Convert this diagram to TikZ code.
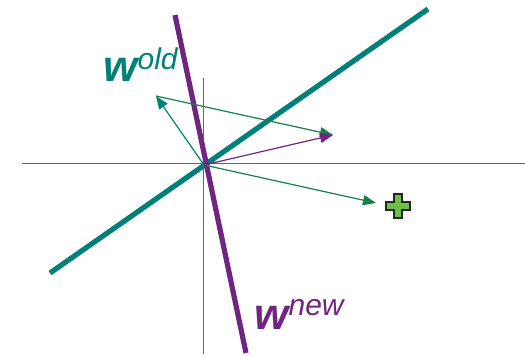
\documentclass[tikz,border=0pt]{standalone}
\usepackage{fontspec}
\setmainfont{Liberation Sans}
\usetikzlibrary{arrows.meta}
\definecolor{tealc}{RGB}{0,128,120}
\definecolor{greenc}{RGB}{22,128,72}
\definecolor{purplec}{RGB}{112,38,128}
\definecolor{plusc}{RGB}{108,190,69}
\tikzset{
  axis/.style={draw=black!60, line width=0.5pt},
  boundary/.style={line width=2.6pt},
  vec/.style={line width=0.6pt, -{Triangle[length=6.5pt,width=5pt]}},
  lbl/.style={inner sep=0pt, anchor=base west},
}
\begin{document}
\begin{tikzpicture}[x=0.5pt,y=-0.5pt]
\useasboundingbox (0,0) rectangle (525,357);
\coordinate (O) at (204,165);
\coordinate (Wold) at (156,96);
\coordinate (Wnew) at (333,135);
\coordinate (X) at (376,203);
\coordinate (axL) at (22,164);
\coordinate (axR) at (525,164);
\coordinate (axT) at (203,78);
\coordinate (axB) at (203,354);
\coordinate (bT1) at (50,273);
\coordinate (bT2) at (428,9);
\coordinate (bP1) at (175,15);
\coordinate (bP2) at (246,353);
\draw[axis] (axL) -- (axR);
\draw[axis] (axT) -- (axB);
\draw[boundary, tealc] (bT1) -- (bT2);
\draw[boundary, purplec] (bP1) -- (bP2);
\draw[vec, tealc] (O) -- (Wold);
\draw[vec, greenc] (Wold) -- (Wnew);
\draw[vec, purplec] (O) -- (Wnew);
\draw[vec, greenc] (O) -- (X);
\fill[plusc, draw=black!85, line width=0.9pt]
  (394,194) -- (402,194) -- (402,202) -- (410,202) -- (410,210) -- (402,210)
  -- (402,218) -- (394,218) -- (394,210) -- (386,210) -- (386,202) -- (394,202) -- cycle;
\node[lbl, tealc] (lold) at (103,82) {{\fontsize{22}{22}\selectfont\bfseries\itshape w}{\fontsize{15}{15}\selectfont\itshape\raisebox{6pt}{old}}};
\node[lbl, purplec] (lnew) at (254,330) {{\fontsize{22}{22}\selectfont\bfseries\itshape w}{\fontsize{15}{15}\selectfont\itshape\raisebox{7pt}{new}}};
\end{tikzpicture}
\end{document}
